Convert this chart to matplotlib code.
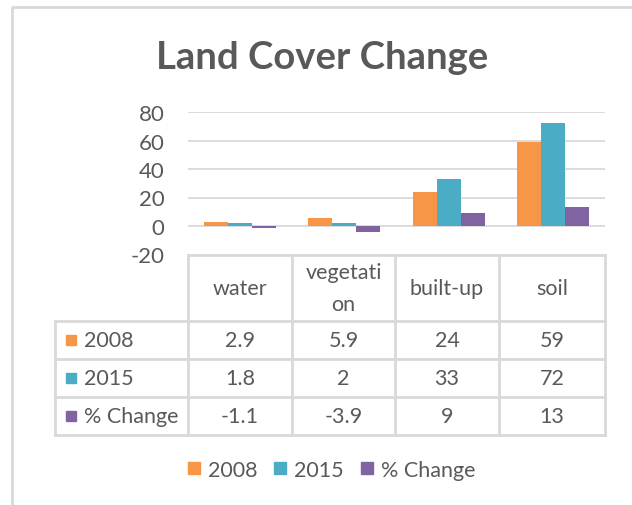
import numpy as np
import matplotlib.pyplot as plt
from matplotlib.lines import Line2D
from matplotlib.patches import Rectangle

plt.rcParams['font.family'] = ['Lato', 'DejaVu Sans']
plt.rcParams['axes.unicode_minus'] = False

categories = ['water', 'vegetati\non', 'built-up', 'soil']
series = ['2008', '2015', '% Change']
v2008 = [2.9, 5.9, 24, 59]
v2015 = [1.8, 2, 33, 72]
vchange = [-1.1, -3.9, 9, 13]
values = [v2008, v2015, vchange]
colors = ['#F79646', '#4BACC6', '#8064A2']
grey = '#595959'
line_c = '#d9d9d9'

W, H = 632, 506
fig = plt.figure(figsize=(W / 100, H / 100), dpi=100)

def px(x, y):
    return x / W, 1 - y / H

# outer chart border (top + left)
fig.add_artist(Line2D([12 / W, 12 / W, 1], [0, 1 - 8 / H, 1 - 8 / H], color=line_c, lw=2))

fig.text(*px(322, 58), 'Land Cover Change', ha='center', va='center',
         fontsize=27.5, fontweight='bold', color=grey)

# plot area
left, right, top, bottom = 188, 605, 113, 255.5
ax = fig.add_axes([left / W, 1 - bottom / H, (right - left) / W, (bottom - top) / H])
x = np.arange(len(categories))
bw = 0.23
for i, (vals, c) in enumerate(zip(values, colors)):
    ax.bar(x + (i - 1) * bw, vals, bw, color=c, zorder=3)
ax.set_xlim(-0.5, len(categories) - 0.5)
ax.set_ylim(-20, 80)
ax.set_yticks([-20, 0, 20, 40, 60, 80])
for yv in [0, 20, 40, 60, 80]:
    ax.axhline(yv, color=line_c, lw=1.3, zorder=1)
ax.set_xticks([])
ax.tick_params(axis='y', length=0, pad=17, labelsize=16, labelcolor=grey)
for s in ax.spines.values():
    s.set_visible(False)

# data table
cols = [188, 292, 395, 499, 605]
rows = [256, 322, 360, 398, 436]
lab_left = 55
tw = 2
fs = 15.5
fig.add_artist(Line2D([px(cols[0], 0)[0], px(cols[-1], 0)[0]], [px(0, rows[0])[1]] * 2, color=line_c, lw=tw))
for r in rows[1:]:
    fig.add_artist(Line2D([px(lab_left, 0)[0], px(cols[-1], 0)[0]], [px(0, r)[1]] * 2, color=line_c, lw=tw))
for c in cols:
    fig.add_artist(Line2D([px(c, 0)[0]] * 2, [px(0, rows[0])[1], px(0, rows[-1])[1]], color=line_c, lw=tw))
fig.add_artist(Line2D([px(lab_left, 0)[0]] * 2, [px(0, rows[1])[1], px(0, rows[-1])[1]], color=line_c, lw=tw))

for j, cat in enumerate(categories):
    cx = (cols[j] + cols[j + 1]) / 2
    fig.text(*px(cx, (rows[0] + rows[1]) / 2), cat, ha='center', va='center',
             fontsize=fs, color=grey, linespacing=1.75)
    for i in range(len(series)):
        cy = (rows[i + 1] + rows[i + 2]) / 2
        fig.text(*px(cx, cy), f'{values[i][j]:g}', ha='center', va='center',
                 fontsize=fs, color=grey)

for i, name in enumerate(series):
    cy = (rows[i + 1] + rows[i + 2]) / 2
    sx, sy = px(66, cy + 5)
    fig.add_artist(Rectangle((sx, sy), 10 / W, 10 / H, color=colors[i]))
    fig.text(*px(84, cy), name, ha='left', va='center', fontsize=fs, color=grey)

# legend
handles = [Line2D([], [], marker='s', ls='', color=c, markersize=9) for c in colors]
fig.legend(handles, series, loc='center', bbox_to_anchor=px(331, 471), ncol=3,
           frameon=False, fontsize=fs, labelcolor=grey, handlelength=0.7,
           handletextpad=0.3, columnspacing=0.7)

fig.savefig('out.png', dpi=100, facecolor='white')
